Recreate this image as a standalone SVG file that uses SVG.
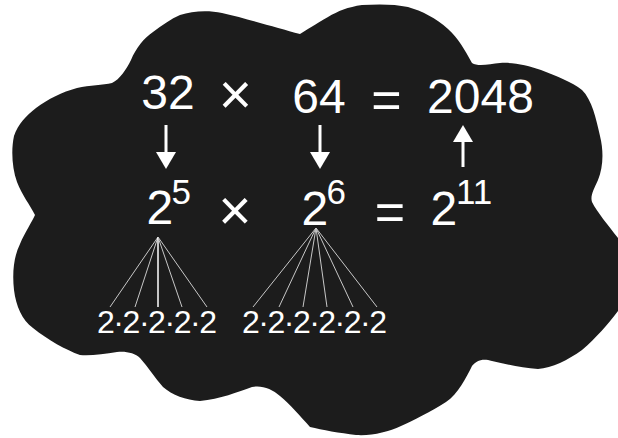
<svg xmlns="http://www.w3.org/2000/svg" width="618" height="438" viewBox="0 0 618 438">
<defs>
<style>
.t{font-family:"Liberation Sans",Arial,sans-serif;fill:#fff}
.big{font-size:48px}
.op{font-size:57px}
.eq{font-size:52px}
.sup{font-size:35px}
.small{font-size:32px}
.arr{stroke:#fff;stroke-width:3;fill:none}
.fan{stroke:#c8c8c8;stroke-width:1;fill:none}
.fanc{stroke:#fff;stroke-width:1.5;fill:none}
</style>
<marker id="ah" markerUnits="userSpaceOnUse" markerWidth="18" markerHeight="20" refX="0" refY="10" orient="auto" viewBox="0 0 18 20">
<path d="M0,0 L17,10 L0,20 z" fill="#fff"/>
</marker>
</defs>
<rect width="618" height="438" fill="#fff"/>
<path id="cloud" fill="#1c1c1c" d="M180,15 C192,11 208,10 222,13 C248,19 278,28 300,34 C306,30 316,24 328,17 C338,11 348,7 362,5 C378,4 395,4 408,7 C422,11 436,18 448,29 C458,38 465,50 472,63 C478,67 490,64 500,63 C512,62 528,65 541,70 C556,76 572,82 582,90 C592,100 596,118 600,136 C604,152 603,168 598,180 C594,189 590,196 592,202 C597,212 608,225 618,238 L618,311 C608,324 596,338 582,350 C568,360 552,368 538,369 C522,368 506,364 492,361 C482,358 476,361 472,366 C466,378 458,394 446,402 C430,412 414,420 401,426 C388,432 372,436 356,435 C340,433 322,430 310,427 C300,416 290,404 280,396 C272,389 262,385 252,387 C238,392 220,399 200,401 C186,400 172,395 163,387 C155,378 148,367 140,358 C135,353 126,351 117,352 C104,354 90,356 80,355 C66,350 48,340 33,328 C22,320 16,306 14,290 C12,272 14,256 20,244 C25,232 32,222 35,215 C30,205 22,195 17,182 C12,168 11,150 14,136 C18,124 26,116 36,108 C48,99 62,92 77,88 C90,85 103,85 112,83 C120,79 126,70 131,60 C136,48 144,38 153,32 C162,25 171,19 180,15 Z"/>
<g id="connectors">
<line class="arr" x1="166" y1="125" x2="166" y2="152" marker-end="url(#ah)"/>
<line class="arr" x1="320" y1="125" x2="320" y2="152" marker-end="url(#ah)"/>
<line class="arr" x1="463" y1="167" x2="463" y2="142" marker-end="url(#ah)"/>
<line class="fan" x1="158" y1="237" x2="110" y2="307"/>
<line class="fan" x1="158" y1="237" x2="135" y2="307"/>
<line class="fanc" x1="158" y1="237" x2="158" y2="307"/>
<line class="fan" x1="158" y1="237" x2="182" y2="307"/>
<line class="fan" x1="158" y1="237" x2="207" y2="307"/>
<line class="fan" x1="316" y1="228" x2="253" y2="307"/>
<line class="fan" x1="316" y1="228" x2="279" y2="307"/>
<line class="fan" x1="316" y1="228" x2="303" y2="307"/>
<line class="fan" x1="316" y1="228" x2="327" y2="307"/>
<line class="fan" x1="316" y1="228" x2="353" y2="307"/>
<line class="fan" x1="316" y1="228" x2="377" y2="307"/>
</g>
<g id="n32"><text class="t big" x="168" y="109" text-anchor="middle">32</text></g>
<g id="times1"><text class="t op" x="235.5" y="114" text-anchor="middle">×</text></g>
<g id="n64"><text class="t big" x="319" y="113" text-anchor="middle">64</text></g>
<g id="eq1"><text class="t eq" x="386.5" y="118" text-anchor="middle">=</text></g>
<g id="n2048"><text class="t big" x="480.5" y="113" text-anchor="middle">2048</text></g>
<g id="p5"><text class="t big" x="146.5" y="224">2</text><text class="t sup" x="171.5" y="204">5</text></g>
<g id="times2"><text class="t op" x="235" y="230" text-anchor="middle">×</text></g>
<g id="p6"><text class="t big" x="301.5" y="225">2</text><text class="t sup" x="326.5" y="204">6</text></g>
<g id="eq2"><text class="t eq" x="390" y="230" text-anchor="middle">=</text></g>
<g id="p11"><text class="t big" x="430.5" y="225">2</text><text class="t sup" x="456" y="204">11</text></g>
<g id="exp5"><text class="t small" x="97" y="333" textLength="120" lengthAdjust="spacing">2·2·2·2·2</text></g>
<g id="exp6"><text class="t small" x="242" y="333" textLength="145" lengthAdjust="spacing">2·2·2·2·2·2</text></g>
</svg>
